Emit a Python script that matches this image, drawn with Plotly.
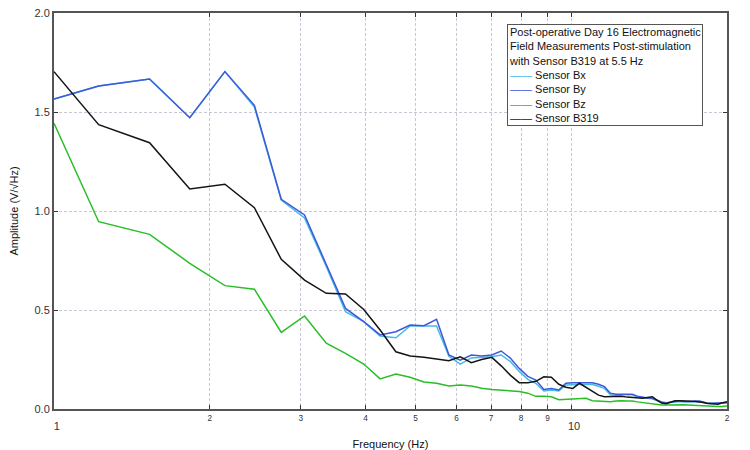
import plotly.graph_objects as go

# frequency bins (Hz)
freq = [1.00, 1.22, 1.53, 1.83, 2.14, 2.44, 2.75, 3.05, 3.36, 3.66,
        3.97, 4.27, 4.58, 4.88, 5.19, 5.49, 5.80, 6.10, 6.41, 6.71,
        7.02, 7.32, 7.63, 7.93, 8.24, 8.54, 8.85, 9.15, 9.46, 9.76,
        10.07, 10.37, 10.68, 10.98, 11.29, 11.59, 11.90, 12.20, 12.51, 12.81,
        13.12, 13.42, 13.73, 14.03, 14.34, 14.64, 14.95, 15.25, 15.56, 15.86,
        16.17, 16.47, 16.78, 17.08, 17.39, 17.69, 18.00, 18.30, 18.61, 18.91,
        19.22, 19.52, 19.83, 20.14]

# amplitudes (V/sqrt(Hz))
bx = [1.566, 1.631, 1.667, 1.471, 1.704, 1.525, 1.055, 0.965, 0.720, 0.491,
      0.441, 0.369, 0.360, 0.419, 0.419, 0.419, 0.266, 0.227, 0.258, 0.262,
      0.264, 0.273, 0.239, 0.190, 0.150, 0.130, 0.091, 0.096, 0.091, 0.121,
      0.124, 0.124, 0.124, 0.124, 0.115, 0.104, 0.072, 0.070, 0.072, 0.072,
      0.072, 0.062, 0.057, 0.054, 0.052, 0.043, 0.033, 0.030, 0.034, 0.038,
      0.038, 0.036, 0.035, 0.036, 0.037, 0.037, 0.033, 0.028, 0.027, 0.027,
      0.027, 0.028, 0.030, 0.031]

by = [1.566, 1.631, 1.667, 1.471, 1.704, 1.534, 1.059, 0.980, 0.730, 0.508,
      0.441, 0.374, 0.390, 0.424, 0.421, 0.453, 0.273, 0.247, 0.273, 0.268,
      0.273, 0.293, 0.256, 0.205, 0.165, 0.146, 0.099, 0.104, 0.096, 0.130,
      0.133, 0.133, 0.133, 0.133, 0.125, 0.113, 0.080, 0.075, 0.074, 0.074,
      0.074, 0.065, 0.059, 0.056, 0.054, 0.045, 0.035, 0.032, 0.036, 0.040,
      0.040, 0.038, 0.037, 0.038, 0.040, 0.040, 0.035, 0.029, 0.029, 0.029,
      0.029, 0.030, 0.032, 0.033]

bz = [1.443, 0.946, 0.882, 0.736, 0.623, 0.605, 0.387, 0.470, 0.332, 0.281,
      0.227, 0.152, 0.177, 0.160, 0.136, 0.130, 0.116, 0.121, 0.116, 0.105,
      0.099, 0.096, 0.094, 0.088, 0.080, 0.064, 0.064, 0.062, 0.047, 0.048,
      0.050, 0.052, 0.054, 0.042, 0.040, 0.037, 0.037, 0.040, 0.042, 0.040,
      0.040, 0.036, 0.032, 0.030, 0.027, 0.024, 0.020, 0.020, 0.021, 0.022,
      0.022, 0.021, 0.020, 0.019, 0.018, 0.017, 0.014, 0.012, 0.012, 0.012,
      0.012, 0.013, 0.014, 0.015]

b319 = [1.704, 1.436, 1.345, 1.111, 1.135, 1.017, 0.756, 0.651, 0.584, 0.581,
        0.503, 0.399, 0.289, 0.268, 0.261, 0.251, 0.244, 0.264, 0.234, 0.250,
        0.261, 0.218, 0.170, 0.133, 0.133, 0.140, 0.163, 0.160, 0.125, 0.110,
        0.104, 0.130, 0.110, 0.087, 0.070, 0.062, 0.062, 0.064, 0.064, 0.060,
        0.059, 0.056, 0.054, 0.058, 0.062, 0.045, 0.030, 0.027, 0.035, 0.042,
        0.042, 0.040, 0.040, 0.039, 0.038, 0.037, 0.033, 0.029, 0.027, 0.025,
        0.024, 0.030, 0.035, 0.038]

legend_title = ["Post-operative Day 16 Electromagnetic",
                "Field Measurements Post-stimulation",
                "with Sensor B319 at 5.5 Hz"]

series = [
    ("Sensor Bx", bx, "rgb(70,185,235)"),
    ("Sensor By", by, "rgb(60,90,215)"),
    ("Sensor Bz", bz, "rgb(40,190,40)"),
    ("Sensor B319", b319, "rgb(20,20,20)"),
]

fig = go.Figure()
for name, vals, clr in series:
    fig.add_trace(go.Scatter(
        x=freq, y=vals, name=name, mode="lines",
        line=dict(color=clr, width=1.5),
    ))

# compact boxed legend (plotly's own legend rows are too tall for this look)
legend_lines = list(legend_title)
for name, vals, clr in series:
    legend_lines.append("<span style='color:%s'>\u2014\u2014</span> %s" % (clr, name))

fig.add_annotation(
    xref="paper", yref="paper", x=0.673, y=0.972,
    xanchor="left", yanchor="top", align="left",
    text="<br>".join(legend_lines), showarrow=False,
    font=dict(family="Liberation Sans, Arial, sans-serif", size=11, color="#111"),
    bgcolor="white", bordercolor="#555", borderwidth=1, borderpad=1,
)

# page body has an 8px margin, so the figure is sized/offset to fill the window
fig.update_layout(
    width=742, height=442,
    margin=dict(l=46, r=23, t=5, b=41),
    paper_bgcolor="white",
    plot_bgcolor="white",
    showlegend=False,
    font=dict(family="Liberation Sans, Arial, sans-serif", size=11, color="#222"),
)

fig.update_xaxes(
    type="log", range=[0, 1.301], dtick="D1", automargin=False,
    showgrid=True, gridcolor="rgb(200,200,212)", griddash="3px,2px", gridwidth=1,
    showline=True, linecolor="#555", linewidth=2, mirror="allticks",
    ticks="inside", ticklen=4, tickcolor="#333",
    tickfont=dict(size=11, color="#333"), ticklabeloverflow="allow",
    title=dict(text="Frequency (Hz)", font=dict(size=11, color="#111"), standoff=13),
    zeroline=False,
)
fig.update_yaxes(
    range=[0, 2.0], dtick=0.5, tickformat=".1f", automargin=False,
    showgrid=True, gridcolor="rgb(200,200,212)", griddash="3px,2px", gridwidth=1,
    showline=True, linecolor="#555", linewidth=2, mirror="allticks",
    ticks="inside", ticklen=4, tickcolor="#333",
    tickfont=dict(size=11, color="#333"), ticklabeloverflow="allow",
    title=dict(text="Amplitude (V/\u221aHz)", font=dict(size=11, color="#111"), standoff=15),
    zeroline=False,
)

fig.write_html("out.html")
